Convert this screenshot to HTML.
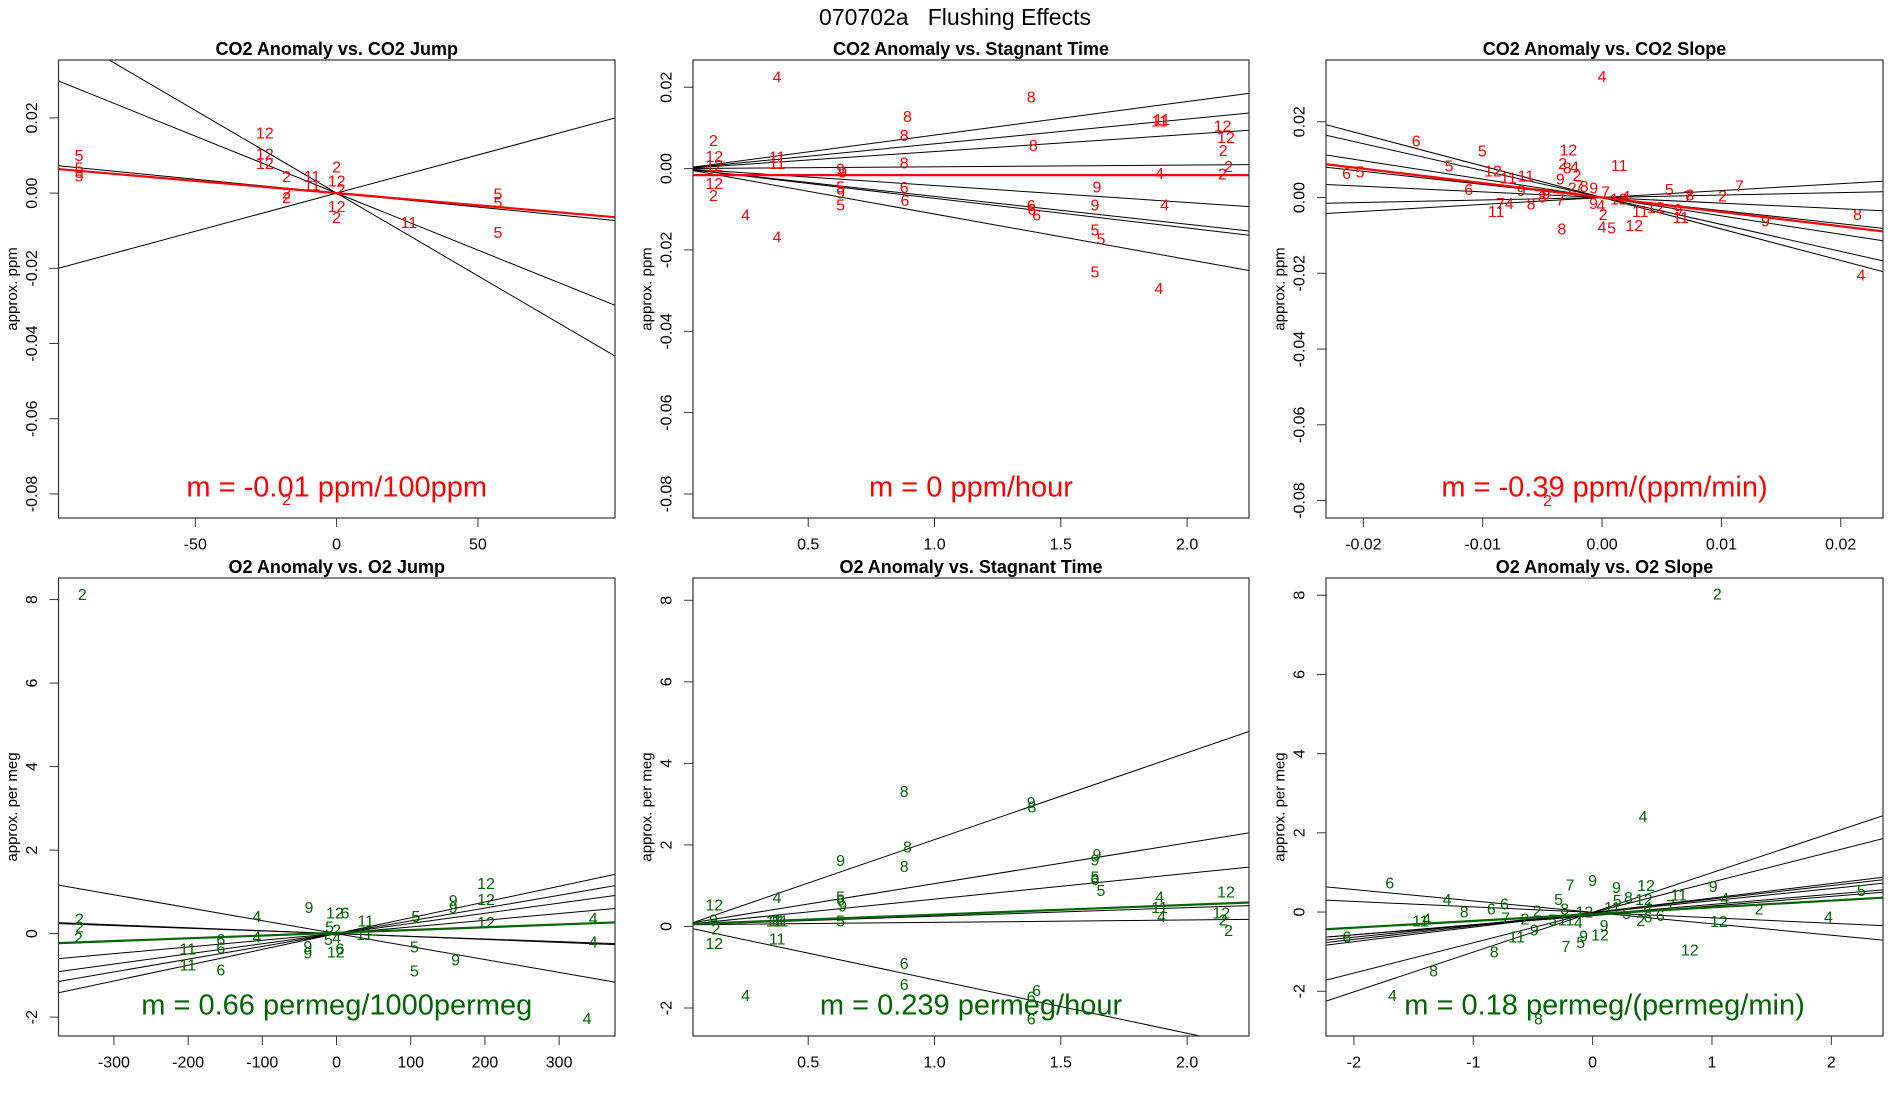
<!DOCTYPE html>
<html><head><meta charset="utf-8"><title>070702a Flushing Effects</title>
<style>
html,body{margin:0;padding:0;background:#fff;}
svg{display:block;font-family:"Liberation Sans",Arial,sans-serif;}
</style></head>
<body>
<svg id="fig" width="1900" height="1100" viewBox="0 0 1900 1100" xmlns="http://www.w3.org/2000/svg">
<rect width="1900" height="1100" fill="#fff"/>
<text x="955" y="17" font-size="23" text-anchor="middle" dominant-baseline="central" fill="#000" xml:space="preserve">070702a   Flushing Effects</text>
</svg>
<script>
// ---------- Panel 1: CO2 Anomaly vs. CO2 Jump ----------
const p1Labels = ["5","5","5","5","12","12","12","2","2","2","11","11","2","12","2","12","2","11","5","5","5","2"];
const p1X = [-91.1,-91.1,-91.1,-91.1,-25.4,-25.4,-25.4,-17.7,-17.7,-17.7,-8.7,-8.7,0,0,1.5,0,0,25.6,57.1,57.1,57.1,-17.7];
const p1Y = [0.0097,0.0064,0.0052,0.0043,0.0157,0.0102,0.0076,0.0041,-0.0002,-0.0014,0.0041,0.0019,0.0067,0.0029,0.0007,-0.0038,-0.0067,-0.0081,-0.0005,-0.0027,-0.0108,-0.0817];
const p1Slopes = [-0.00044,-0.000303,0.000203,-0.000074];
const p1Intercepts = [0,0,0,0];
const p1Fit = [-0.000065, 0];
const p1XTicks = [-50,0,50];
const p1XTickLabels = ["-50","0","50"];
const p1YTicks = [-0.08,-0.06,-0.04,-0.02,0,0.02];
const p1YTickLabels = ["-0.08","-0.06","-0.04","-0.02","0.00","0.02"];

// ---------- Panel 2: CO2 Anomaly vs. Stagnant Time ----------
const p2Labels = ["4","8","8","8","11","11","12","12","2","2","2","2","12","12","12","2","11","11","8","8","9","9","5","9","5","6","6","4","4","6","6","6","9","9","4","4","5","5","5","4"];
const p2X = [0.377,1.383,0.893,0.880,1.891,1.900,2.140,2.154,2.143,2.164,2.140,0.125,0.128,0.128,0.128,0.125,0.377,0.377,1.391,0.880,0.628,0.636,0.628,0.628,0.628,0.880,0.883,0.252,0.377,1.383,1.386,1.404,1.643,1.635,1.891,1.911,1.635,1.659,1.635,1.888];
const p2Y = [0.0223,0.0173,0.0126,0.0079,0.0114,0.0118,0.0102,0.0074,0.0042,0.0003,-0.0016,0.0067,0.0027,0.0005,-0.0039,-0.0068,0.0026,0.0010,0.0054,0.0011,-0.0004,-0.0011,-0.0048,-0.0063,-0.0092,-0.0049,-0.0081,-0.0116,-0.0171,-0.0093,-0.0103,-0.0116,-0.0048,-0.0092,-0.0014,-0.0092,-0.0153,-0.0176,-0.0257,-0.0297];
const p2Slopes = [0.00824,0.00609,0.0042,0.00043,-0.00416,-0.00684,-0.0073,-0.01116];
const p2Intercepts = [0,0,0,0,0,0,0,0];
const p2Fit = [0, -0.0016];
const p2XTicks = [0.5,1.0,1.5,2.0];
const p2XTickLabels = ["0.5","1.0","1.5","2.0"];
const p2YTicks = [-0.08,-0.06,-0.04,-0.02,0,0.02];
const p2YTickLabels = ["-0.08","-0.06","-0.04","-0.02","0.00","0.02"];

// ---------- Panel 3: CO2 Anomaly vs. CO2 Slope ----------
const p3Labels = ["4","6","5","12","5","6","5","12","11","11","2","8","4","2","9","6","9","11","2","7","8","9","7","9","8","7","7","4","11","8","9","4","2","4","5","8","12","4","11","12","12","5","7","8","2","7","9","11","9","8","4","2"];
const p3X = [0,-0.01557,-0.01003,-0.00282,-0.01282,-0.02141,-0.02027,-0.00914,-0.00784,-0.00639,-0.0033,-0.00292,-0.0023,-0.0021,-0.0035,-0.01117,-0.00677,0.00144,-0.0025,-0.0019,-0.0015,-0.0007,0.0003,-0.0047,-0.0050,-0.0035,-0.0085,-0.00777,-0.00887,-0.00595,-0.00072,-0.0001,0.0001,0,0.0008,-0.00337,0.0014,0.0020,0.0032,0.0045,0.0027,0.00564,0.0072,0.00735,0.0101,0.0115,0.00636,0.0066,0.0137,0.0214,0.0217,-0.00457];
const p3Y = [0.0317,0.0146,0.0120,0.0123,0.0081,0.0061,0.0065,0.0068,0.0049,0.0054,0.0087,0.0075,0.0078,0.0056,0.0046,0.0018,0.0016,0.0082,0.0023,0.0028,0.0026,0.0023,0.0012,0.0007,-0.0001,-0.0009,-0.0019,-0.0019,-0.0039,-0.0020,-0.0019,-0.0024,-0.0048,-0.0081,-0.0083,-0.0086,-0.0006,0.0000,-0.0039,-0.0029,-0.0076,0.0018,0.0000,0.0004,0.0002,0.0028,-0.0034,-0.0055,-0.0064,-0.0047,-0.0207,-0.0802];
const p3Slopes = [-0.831,-0.711,-0.485,-0.3455,-0.148,0.065,0.183];
const p3Intercepts = [0,0,0,0,0,0,0];
const p3Fit = [-0.38, 0];
const p3XTicks = [-0.02,-0.01,0,0.01,0.02];
const p3XTickLabels = ["-0.02","-0.01","0.00","0.01","0.02"];
const p3YTicks = [-0.08,-0.06,-0.04,-0.02,0,0.02];
const p3YTickLabels = ["-0.08","-0.06","-0.04","-0.02","0.00","0.02"];

// ---------- Panel 4: O2 Anomaly vs. O2 Jump ----------
const q4Labels = ["2","2","2","2","11","11","6","6","6","4","4","9","9","9","12","6","5","2","5","4","6","12","11","11","5","5","5","9","9","9","12","12","12","4","4","4"];
const q4X = [-342.6,-346.5,-346.5,-348,-200.4,-200.4,-156,-156,-156,-107.4,-107.4,-37.1,-38.7,-38.7,-2.2,11.6,-9.4,0,-11,0,4.4,-1.1,39.3,37.6,106.8,105,105,157.2,157.2,160.5,201.5,201.5,201.5,346,346,337.6];
const q4Y = [8.10,0.33,0.13,-0.13,-0.39,-0.77,-0.17,-0.37,-0.89,0.39,-0.11,0.60,-0.33,-0.49,0.47,0.47,0.13,0.06,-0.17,-0.13,-0.39,-0.46,0.28,-0.04,0.39,-0.34,-0.92,0.77,0.60,-0.65,1.18,0.79,0.24,0.34,-0.23,-2.06];
const q4Slopes = [-0.0031,-0.00064,-0.0007,0.0016,0.00243,0.00306,0.00378];
const q4Intercepts = [0,0,0,0,0,0,0];
const q4Fit = [0.00066, 0.02];
const q4XTicks = [-300,-200,-100,0,100,200,300];
const q4XTickLabels = ["-300","-200","-100","0","100","200","300"];
const q4YTicks = [-2,0,2,4,6,8];
const q4YTickLabels = ["-2","0","2","4","6","8"];

// ---------- Panel 5: O2 Anomaly vs. Stagnant Time ----------
const p5Labels = ["8","9","8","8","9","8","9","9","5","6","5","12","4","5","6","9","5","11","11","11","9","2","11","12","4","11","4","12","12","2","2","6","6","6","6","6","4"];
const p5X = [0.880,1.383,1.386,0.893,0.628,0.880,1.643,1.635,1.635,1.635,1.659,0.128,0.377,0.628,0.628,0.636,0.628,0.365,0.377,0.389,0.125,0.135,0.377,0.128,1.891,1.891,1.899,2.154,2.135,2.143,2.164,0.880,0.880,1.404,1.383,1.383,0.252];
const p5Y = [3.29,3.01,2.91,1.92,1.59,1.45,1.74,1.61,1.19,1.13,0.86,0.50,0.69,0.70,0.62,0.48,0.11,0.11,0.11,0.11,0.13,-0.09,-0.33,-0.44,0.70,0.44,0.22,0.82,0.31,0.13,-0.13,-0.93,-1.45,-1.59,-1.76,-2.29,-1.72];
const p5Slopes = [2.13,1.0,0.63,0.21,0.06,-1.31];
const p5Intercepts = [0,0.05,0.04,0.04,0.04,0];
const p5Fit = [0.239, 0.05];
const p5XTicks = [0.5,1.0,1.5,2.0];
const p5XTickLabels = ["0.5","1.0","1.5","2.0"];
const p5YTicks = [-2,0,2,4,6,8];
const p5YTickLabels = ["-2","0","2","4","6","8"];

// ---------- Panel 6: O2 Anomaly vs. O2 Slope ----------
const p6Labels = ["2","4","6","4","8","6","6","7","2","2","11","4","6","11","9","8","8","4","8","7","9","5","8","5","11","4","12","9","5","7","12","9","9","12","5","8","11","12","4","5","2","6","6","11","7","9","4","12","12","2","4","5"];
const p6X = [1.045,0.423,-1.70,-1.22,-1.076,-0.849,-0.739,-0.729,-0.567,-0.464,-1.443,-1.39,-2.06,-0.636,-0.488,-0.825,-1.333,-1.677,-0.454,-0.189,0,-0.285,-0.234,-0.337,-0.223,-0.12,-0.069,-0.076,-0.10,-0.223,0.062,0.096,0.2,0.447,0.206,0.3,0.165,0.43,0.464,0.285,0.402,0.464,0.567,0.722,0.653,1.01,1.107,1.058,0.814,1.395,1.976,2.251];
const p6Y = [8.0,2.39,0.71,0.29,-0.03,0.05,0.18,-0.18,-0.20,0,-0.25,-0.20,-0.65,-0.66,-0.48,-1.04,-1.52,-2.13,-2.72,0.66,0.77,0.29,0.05,-0.23,-0.23,-0.29,-0.02,-0.63,-0.79,-0.89,-0.61,-0.36,0.59,0.65,0.27,0.34,0.09,0.29,0.09,-0.06,-0.24,-0.15,-0.11,0.41,0.14,0.62,0.32,-0.27,-0.98,0.05,-0.15,0.52];
const p6Slopes = [1.003,0.766,-0.288,-0.138,0.367,0.340,0.307,0.256,0.243];
const p6Intercepts = [-0.009,-0.009,-0.008,-0.008,-0.014,-0.011,-0.021,-0.063,-0.09];
const p6Fit = [0.171, -0.053];
const p6XTicks = [-2,-1,0,1,2];
const p6XTickLabels = ["-2","-1","0","1","2"];
const p6YTicks = [-2,0,2,4,6,8];
const p6YTickLabels = ["-2","0","2","4","6","8"];

const SVGNS = "http://www.w3.org/2000/svg";
const svg = document.getElementById('fig');

function mk(tag, attrs, parent) {
  const e = document.createElementNS(SVGNS, tag);
  for (const k in attrs) e.setAttribute(k, attrs[k]);
  (parent || svg).appendChild(e);
  return e;
}

const panels = [
  {id:"co2-jump", title:"CO2 Anomaly vs. CO2 Jump", box:[58.5,60,615,518], xr:[-98.4,98.5], yr:[-0.0864,0.0354], ylab:"approx. ppm", col:"#ff0000", lbl:p1Labels, xs:p1X, ys:p1Y, sl:p1Slopes, ic:p1Intercepts, fit:p1Fit, xt:p1XTicks, xtl:p1XTickLabels, yt:p1YTicks, ytl:p1YTickLabels, note:"m = -0.01 ppm/100ppm"},
  {id:"co2-stagnant", title:"CO2 Anomaly vs. Stagnant Time", box:[693,60,1249,518], xr:[0.044,2.245], yr:[-0.0859,0.0267], ylab:"approx. ppm", col:"#ff0000", lbl:p2Labels, xs:p2X, ys:p2Y, sl:p2Slopes, ic:p2Intercepts, fit:p2Fit, xt:p2XTicks, xtl:p2XTickLabels, yt:p2YTicks, ytl:p2YTickLabels, note:"m = 0 ppm/hour"},
  {id:"co2-slope", title:"CO2 Anomaly vs. CO2 Slope", box:[1326,60,1883,518], xr:[-0.02313,0.02354], yr:[-0.0846,0.0363], ylab:"approx. ppm", col:"#ff0000", lbl:p3Labels, xs:p3X, ys:p3Y, sl:p3Slopes, ic:p3Intercepts, fit:p3Fit, xt:p3XTicks, xtl:p3XTickLabels, yt:p3YTicks, ytl:p3YTickLabels, note:"m = -0.39 ppm/(ppm/min)"},
  {id:"o2-jump", title:"O2 Anomaly vs. O2 Jump", box:[58.5,578,615,1036], xr:[-374.7,375.3], yr:[-2.452,8.516], ylab:"approx. per meg", col:"#006400", lbl:q4Labels, xs:q4X, ys:q4Y, sl:q4Slopes, ic:q4Intercepts, fit:q4Fit, xt:q4XTicks, xtl:q4XTickLabels, yt:q4YTicks, ytl:q4YTickLabels, note:"m = 0.66 permeg/1000permeg"},
  {id:"o2-stagnant", title:"O2 Anomaly vs. Stagnant Time", box:[693,578,1249,1036], xr:[0.044,2.245], yr:[-2.687,8.546], ylab:"approx. per meg", col:"#006400", lbl:p5Labels, xs:p5X, ys:p5Y, sl:p5Slopes, ic:p5Intercepts, fit:p5Fit, xt:p5XTicks, xtl:p5XTickLabels, yt:p5YTicks, ytl:p5YTickLabels, note:"m = 0.239 permeg/hour"},
  {id:"o2-slope", title:"O2 Anomaly vs. O2 Slope", box:[1326,578,1883,1036], xr:[-2.234,2.433], yr:[-3.13,8.435], ylab:"approx. per meg", col:"#006400", lbl:p6Labels, xs:p6X, ys:p6Y, sl:p6Slopes, ic:p6Intercepts, fit:p6Fit, xt:p6XTicks, xtl:p6XTickLabels, yt:p6YTicks, ytl:p6YTickLabels, note:"m = 0.18 permeg/(permeg/min)"}
];

panels.forEach(function(p, pi) {
  const [L,T,R,B] = p.box;
  const sx = v => L + (v - p.xr[0]) / (p.xr[1] - p.xr[0]) * (R - L);
  const sy = v => B - (v - p.yr[0]) / (p.yr[1] - p.yr[0]) * (B - T);
  const g = mk('g', {});
  
  

  const cp = mk('clipPath', {id:'clip' + pi}, g);
  mk('rect', {x:L, y:T, width:R-L, height:B-T}, cp);
  const plot = mk('g', {'clip-path':'url(#clip' + pi + ')'}, g);
  
  

  p.sl.forEach(function(b, i) {
    const a = p.ic[i];
    const ln = mk('line', {x1:sx(p.xr[0]), y1:sy(a + b*p.xr[0]), x2:sx(p.xr[1]), y2:sy(a + b*p.xr[1]), stroke:'#000', 'stroke-width':1}, plot);
    
    
  });
  p.lbl.forEach(function(t, i) {
    const tx = mk('text', {x:sx(p.xs[i]), y:sy(p.ys[i]), 'font-size':16, fill:p.col, 'text-anchor':'middle', 'dominant-baseline':'central'}, plot);
    tx.textContent = t;
    
    
  });
  const fa = p.fit[1], fb = p.fit[0];
  const fl = mk('line', {x1:sx(p.xr[0]), y1:sy(fa + fb*p.xr[0]), x2:sx(p.xr[1]), y2:sy(fa + fb*p.xr[1]), stroke:p.col, 'stroke-width':2.2}, plot);
  
  

  const nt = mk('text', {x:(L+R)/2, y:T + 0.933*(B-T), 'font-size':29, fill:p.col, 'text-anchor':'middle', 'dominant-baseline':'central'}, g);
  nt.textContent = p.note;
  
  

  const bx = mk('rect', {x:L, y:T, width:R-L, height:B-T, fill:'none', stroke:'#333', 'stroke-width':1.2}, g);
  
  

  const xa = mk('g', {}, g);
  
  
  p.xt.forEach(function(v, i) {
    const x = sx(v);
    const tk = mk('line', {x1:x, y1:B, x2:x, y2:B+9, stroke:'#333', 'stroke-width':1}, xa);
    
    
    const tl = mk('text', {x:x, y:B+27, 'font-size':16, fill:'#000', 'text-anchor':'middle', 'dominant-baseline':'central'}, xa);
    tl.textContent = p.xtl[i];
    
    
  });
  const ya = mk('g', {}, g);
  
  
  p.yt.forEach(function(v, i) {
    const y = sy(v);
    const tk = mk('line', {x1:L-9, y1:y, x2:L, y2:y, stroke:'#333', 'stroke-width':1}, ya);
    
    
    const tl = mk('text', {x:L-26, y:y, 'font-size':16, fill:'#000', 'text-anchor':'middle', 'dominant-baseline':'central', transform:'rotate(-90 ' + (L-26) + ' ' + y + ')'}, ya);
    tl.textContent = p.ytl[i];
    
    
  });
  const yl = mk('text', {x:L-46, y:(T+B)/2, 'font-size':15, fill:'#000', 'text-anchor':'middle', 'dominant-baseline':'central', transform:'rotate(-90 ' + (L-46) + ' ' + ((T+B)/2) + ')'}, g);
  yl.textContent = p.ylab;
  
  

  const tt = mk('text', {x:(L+R)/2, y:T-11, 'font-size':18, 'font-weight':'bold', fill:'#000', 'text-anchor':'middle', 'dominant-baseline':'central'}, g);
  tt.textContent = p.title;
  
  
});
</script>
</body></html>
